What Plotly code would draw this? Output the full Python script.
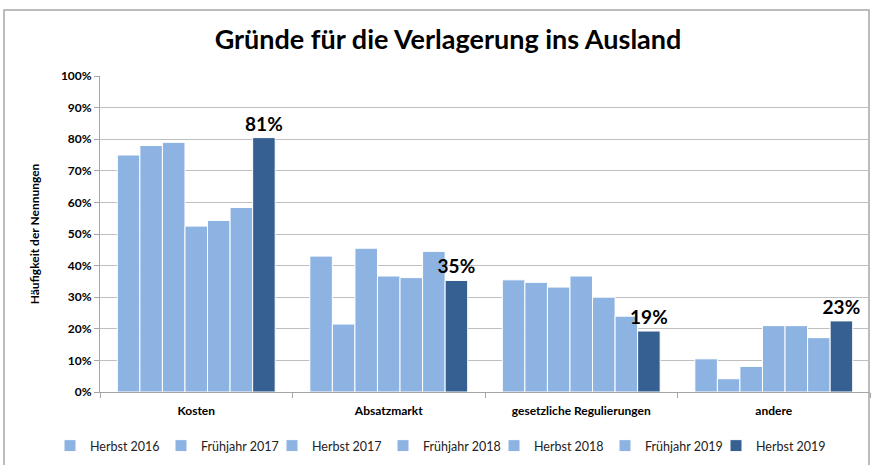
import plotly.graph_objects as go

categories = ["Kosten", "Absatzmarkt", "gesetzliche Regulierungen", "andere"]
series_names = ["Herbst 2016", "Frühjahr 2017", "Herbst 2017", "Frühjahr 2018",
                "Herbst 2018", "Frühjahr 2019", "Herbst 2019"]
herbst_2016 = [75, 43, 35.5, 10.5]
fruehjahr_2017 = [78, 21.5, 34.7, 4.2]
herbst_2017 = [79, 45.5, 33.2, 8.1]
fruehjahr_2018 = [52.5, 36.7, 36.7, 21]
herbst_2018 = [54.3, 36.2, 30, 21]
fruehjahr_2019 = [58.4, 44.5, 24, 17.2]
herbst_2019 = [80.5, 35.3, 19.3, 22.5]
label_2019 = ["81%", "35%", "19%", "23%"]

series_values = [herbst_2016, fruehjahr_2017, herbst_2017, fruehjahr_2018,
                 herbst_2018, fruehjahr_2019, herbst_2019]

LIGHT = "#8DB3E2"
DARK = "#366092"
FONT = "Lato, 'Open Sans', sans-serif"

fig = go.Figure()
for i, (name, vals) in enumerate(zip(series_names, series_values)):
    last = i == len(series_names) - 1
    fig.add_trace(go.Bar(
        name=name, x=categories, y=vals,
        marker=dict(color=DARK if last else LIGHT, line=dict(color="white", width=1)),
        text=label_2019 if last else None,
        textposition="outside" if last else "none",
        constraintext="none",
        textfont=dict(size=19, color="black", family=FONT, weight="bold"),
        cliponaxis=False,
        hoverinfo="x+y+name",
    ))

W, H = 875, 465
ml, mr, mt, mb = 100, 5, 76, 73
pw = W - ml - mr
ph = H - mt - mb

def px_x(x):
    return (x - ml) / pw

def px_y(y):
    return (H - mb - y) / ph

fig.update_layout(
    width=W, height=H,
    margin=dict(l=ml, r=mr, t=mt, b=mb, autoexpand=False),
    paper_bgcolor="white", plot_bgcolor="white",
    barmode="group", bargap=0.18, bargroupgap=0,
    font=dict(family=FONT, color="black"),
    title=dict(text="<b>Gründe für die Verlagerung ins Ausland</b>",
               x=px_x(448), xanchor="center", xref="paper",
               y=1 - 40 / H, yanchor="middle",
               font=dict(size=27, family=FONT, color="black")),
    showlegend=True,
    legend=dict(orientation="h", x=px_x(50), xanchor="left",
                y=px_y(446), yanchor="middle",
                font=dict(size=12.5, family=FONT, color="#222"),
                itemwidth=30, tracegroupgap=0, traceorder="normal",
                entrywidth=66, entrywidthmode="pixels"),
    shapes=[dict(type="rect", xref="paper", yref="paper",
                 x0=px_x(4), x1=px_x(869), y0=px_y(475), y1=px_y(10),
                 line=dict(color="#A6A6A6", width=1.5), fillcolor="rgba(0,0,0,0)",
                 layer="below")],
)
fig.update_yaxes(range=[0, 100], dtick=10, ticksuffix="%",
                 automargin=False,
                 showgrid=True, gridcolor="#BFBFBF", gridwidth=1,
                 showline=True, linecolor="#A6A6A6", linewidth=1,
                 ticks="outside", ticklen=5, tickcolor="#A6A6A6",
                 tickfont=dict(size=12, family=FONT, color="black", weight="bold"),
                 title=dict(text="<b>Häufigkeit der Nennungen</b>", standoff=18,
                            font=dict(size=12, family=FONT, color="black")),
                 zeroline=False)
fig.update_xaxes(showline=True, linecolor="#A6A6A6", linewidth=1,
                 automargin=False,
                 ticks="outside", ticklen=5, tickcolor="#A6A6A6",
                 tickson="boundaries", ticklabelstandoff=8,
                 tickfont=dict(size=12, family=FONT, color="black", weight="bold"))

fig.write_html("out.html", config={"displayModeBar": False},
               post_script="document.body.style.margin='0';")
